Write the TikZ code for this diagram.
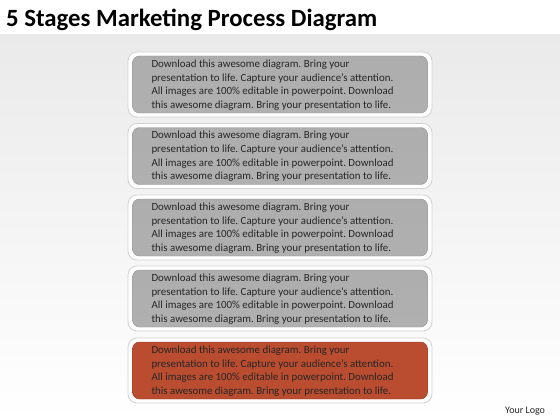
\documentclass[tikz,border=0pt]{standalone}
\usepackage{fontspec}
\setmainfont{Carlito}
\frenchspacing
\usetikzlibrary{positioning}
\definecolor{stageorange}{RGB}{218,112,82}
\definecolor{stageorangedark}{RGB}{186,76,48}
\definecolor{stageorangeline}{RGB}{150,56,34}
\definecolor{panelgray}{RGB}{234,234,234}
\tikzset{
  outerbox/.style={draw=gray!35, line width=0.8pt, fill=white, rounded corners=9pt,
    minimum width=304pt, minimum height=65pt, inner sep=0pt},
  innerbox/.style={draw=gray!85, line width=0.4pt, rounded corners=7pt, minimum width=295pt, minimum height=57pt,
    inner sep=0pt, top color=gray!64, middle color=gray!42, bottom color=gray!62},
  hotbox/.style={innerbox, draw=stageorangeline, top color=stageorangedark, middle color=stageorange, bottom color=stageorangedark},
  bodytext/.style={align=left, inner sep=0pt, text=black!85,
    font=\fontsize{10.9}{13.6}\selectfont}
}
\begin{document}
\begin{tikzpicture}[x=1pt,y=1pt]
  % page and background panel
  \useasboundingbox (0,0) rectangle (560,-420);
  \fill[white] (0,0) rectangle (560,-420);
  \shade[top color=panelgray, bottom color=white] (0,-35) rectangle (560,-420);
  \node[anchor=base west, inner sep=0pt, font=\bfseries\fontsize{24.8}{28}\selectfont] (title) at (6,-27) {5 Stages Marketing Process Diagram};
  % the five stages
  \foreach \i/\cy/\st in {1/84.5/innerbox,2/156/innerbox,3/227.5/innerbox,4/298.5/innerbox,5/370.5/hotbox} {
    \node[outerbox] (frame\i) at (280,-\cy) {};
    \node[\st] (box\i) at (frame\i) {};
    \node[bodytext, anchor=west] (text\i) at ([xshift=19pt,yshift=-0.5pt]box\i.west) {Download this awesome diagram. Bring your\\presentation to life. Capture your audience’s attention.\\All images are 100\% editable in powerpoint. Download\\this awesome diagram. Bring your presentation to life.};
  }
  \node[anchor=base west, inner sep=0pt, font=\fontsize{10}{12}\selectfont, text=black!85] (logo) at (505,-413) {Your Logo};
\end{tikzpicture}
\end{document}
